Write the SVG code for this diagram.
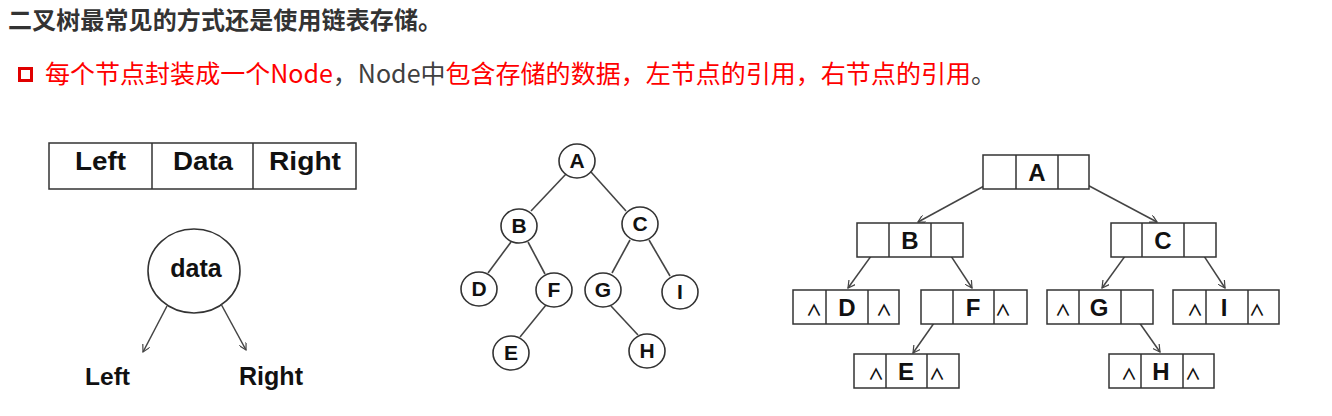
<svg xmlns="http://www.w3.org/2000/svg" width="1332" height="416" viewBox="0 0 1332 416">
<defs>
<style>
.cn{font-family:"Noto Sans CJK SC","Noto Sans",sans-serif}
.hd{font-size:24px;font-weight:bold;fill:#333}
.ln2{font-size:25px}
.r{fill:#ff0000}
.g{fill:#404040}
.box{fill:#fff;stroke:#333;stroke-width:1.5}
.cell{stroke:#333;stroke-width:1.5}
.lb{font-family:"Liberation Sans",Arial,sans-serif;font-weight:bold;fill:#111;text-anchor:middle}
.lt{font-family:"Liberation Sans",Arial,sans-serif;font-weight:bold;fill:#111}
.k{font-family:"Noto Sans CJK SC",sans-serif;font-size:16px;font-weight:bold;fill:#111;text-anchor:middle}
.circ{fill:#fff;stroke:#333;stroke-width:1.6}
.edge{stroke:#444;stroke-width:1.6;fill:none}
.arr{stroke:#444;stroke-width:1.5;fill:none;marker-end:url(#ah)}
</style>
<marker id="ah" viewBox="0 0 10 10" refX="9" refY="5" markerWidth="8" markerHeight="8" orient="auto" markerUnits="userSpaceOnUse">
<path d="M0,0 L9,5 L0,10" fill="none" stroke="#444" stroke-width="1.5"/>
</marker>
</defs>
<rect width="1332" height="416" fill="#fff"/>
<text class="cn hd" x="8" y="29" textLength="434">二叉树最常见的方式还是使用链表存储。</text>
<rect x="19.5" y="68.5" width="12" height="12" fill="none" stroke="#e00000" stroke-width="3"/>
<text class="cn ln2" x="45" y="83" textLength="951"><tspan class="r">每个节点封装成一个Node</tspan><tspan class="g">，Node中</tspan><tspan class="r">包含存储的数据，左节点的引用，右节点的引用</tspan><tspan class="g">。</tspan></text>

<g id="struct">
<rect class="box" x="49" y="143" width="307" height="46"/>
<line class="cell" x1="152" y1="143" x2="152" y2="189"/>
<line class="cell" x1="253" y1="143" x2="253" y2="189"/>
<text class="lt" x="75" y="170" font-size="25" textLength="51" lengthAdjust="spacingAndGlyphs">Left</text>
<text class="lt" x="173" y="170" font-size="25" textLength="60" lengthAdjust="spacingAndGlyphs">Data</text>
<text class="lt" x="269" y="170" font-size="25" textLength="72" lengthAdjust="spacingAndGlyphs">Right</text>
</g>
<g id="datanode">
<ellipse class="circ" cx="194" cy="271" rx="46" ry="42"/>
<text class="lb" x="196" y="277" font-size="25">data</text>
</g>
<g id="leftlabel"><text class="lt" x="85" y="385" font-size="24" textLength="45" lengthAdjust="spacingAndGlyphs">Left</text></g>
<g id="rightlabel"><text class="lt" x="239" y="385" font-size="25" textLength="64" lengthAdjust="spacingAndGlyphs">Right</text></g>

<g id="connectors">
<line class="arr" x1="167" y1="306" x2="143" y2="352"/>
<line class="arr" x1="221" y1="304" x2="246" y2="350"/>
<line class="edge" x1="566" y1="174" x2="531" y2="211"/>
<line class="edge" x1="591" y1="172" x2="626" y2="211"/>
<line class="edge" x1="511" y1="242" x2="488" y2="273"/>
<line class="edge" x1="528" y1="242" x2="545" y2="274"/>
<line class="edge" x1="630" y1="240" x2="612" y2="273"/>
<line class="edge" x1="649" y1="240" x2="670" y2="276"/>
<line class="edge" x1="546" y1="305" x2="520" y2="337"/>
<line class="edge" x1="611" y1="306" x2="638" y2="335"/>
<line class="arr" x1="997" y1="179" x2="918" y2="222"/>
<line class="arr" x1="1078" y1="180" x2="1157" y2="222"/>
<line class="arr" x1="874" y1="252" x2="848" y2="288"/>
<line class="arr" x1="947" y1="250" x2="972" y2="288"/>
<line class="arr" x1="1128" y1="252" x2="1102" y2="288"/>
<line class="arr" x1="1200" y1="250" x2="1225" y2="288"/>
<line class="arr" x1="939" y1="316" x2="913" y2="353"/>
<line class="arr" x1="1134" y1="315" x2="1160" y2="352"/>
</g>

<g id="tA"><ellipse class="circ" cx="577" cy="161" rx="18" ry="17"/><text class="lb" x="577" y="168" font-size="21">A</text></g>
<g id="tB"><ellipse class="circ" cx="519" cy="226" rx="18" ry="17"/><text class="lb" x="519" y="233" font-size="21">B</text></g>
<g id="tC"><ellipse class="circ" cx="640" cy="224" rx="18" ry="17"/><text class="lb" x="640" y="231" font-size="21">C</text></g>
<g id="tD"><ellipse class="circ" cx="479" cy="289" rx="18" ry="17"/><text class="lb" x="479" y="296" font-size="21">D</text></g>
<g id="tF"><ellipse class="circ" cx="554" cy="290" rx="18" ry="17"/><text class="lb" x="554" y="297" font-size="21">F</text></g>
<g id="tG"><ellipse class="circ" cx="603" cy="290" rx="18" ry="17"/><text class="lb" x="603" y="297" font-size="21">G</text></g>
<g id="tI"><ellipse class="circ" cx="680" cy="292" rx="18" ry="17"/><text class="lb" x="680" y="299" font-size="21">I</text></g>
<g id="tE"><ellipse class="circ" cx="511" cy="353" rx="18" ry="17"/><text class="lb" x="511" y="360" font-size="21">E</text></g>
<g id="tH"><ellipse class="circ" cx="647" cy="351" rx="18" ry="17"/><text class="lb" x="647" y="358" font-size="21">H</text></g>

<g id="lA"><rect class="box" x="983" y="155" width="106" height="34"/><line class="cell" x1="1016" y1="155" x2="1016" y2="189"/><line class="cell" x1="1058" y1="155" x2="1058" y2="189"/><text class="lb" x="1037" y="181" font-size="24">A</text></g>
<g id="lB"><rect class="box" x="857" y="223" width="106" height="34"/><line class="cell" x1="889" y1="223" x2="889" y2="257"/><line class="cell" x1="931" y1="223" x2="931" y2="257"/><text class="lb" x="910" y="249" font-size="24">B</text></g>
<g id="lC"><rect class="box" x="1111" y="223" width="105" height="34"/><line class="cell" x1="1142" y1="223" x2="1142" y2="257"/><line class="cell" x1="1184" y1="223" x2="1184" y2="257"/><text class="lb" x="1163" y="249" font-size="24">C</text></g>
<g id="lD"><rect class="box" x="793" y="290" width="106" height="34"/><line class="cell" x1="826" y1="290" x2="826" y2="324"/><line class="cell" x1="868" y1="290" x2="868" y2="324"/><text class="lb" x="847" y="316" font-size="24">D</text><text class="k" x="814" y="316">∧</text><text class="k" x="884" y="316">∧</text></g>
<g id="lF"><rect class="box" x="921" y="290" width="106" height="34"/><line class="cell" x1="953" y1="290" x2="953" y2="324"/><line class="cell" x1="994" y1="290" x2="994" y2="324"/><text class="lb" x="973" y="316" font-size="24">F</text><text class="k" x="1003" y="316">∧</text></g>
<g id="lG"><rect class="box" x="1047" y="290" width="106" height="34"/><line class="cell" x1="1079" y1="290" x2="1079" y2="324"/><line class="cell" x1="1121" y1="290" x2="1121" y2="324"/><text class="lb" x="1099" y="316" font-size="24">G</text><text class="k" x="1063" y="316">∧</text></g>
<g id="lI"><rect class="box" x="1173" y="290" width="106" height="34"/><line class="cell" x1="1206" y1="290" x2="1206" y2="324"/><line class="cell" x1="1248" y1="290" x2="1248" y2="324"/><text class="lb" x="1224" y="316" font-size="24">I</text><text class="k" x="1195" y="316">∧</text><text class="k" x="1257" y="316">∧</text></g>
<g id="lE"><rect class="box" x="854" y="354" width="105" height="34"/><line class="cell" x1="886" y1="354" x2="886" y2="388"/><line class="cell" x1="927" y1="354" x2="927" y2="388"/><text class="lb" x="906" y="380" font-size="24">E</text><text class="k" x="876" y="380">∧</text><text class="k" x="937" y="380">∧</text></g>
<g id="lH"><rect class="box" x="1109" y="354" width="105" height="34"/><line class="cell" x1="1141" y1="354" x2="1141" y2="388"/><line class="cell" x1="1183" y1="354" x2="1183" y2="388"/><text class="lb" x="1161" y="380" font-size="24">H</text><text class="k" x="1129" y="380">∧</text><text class="k" x="1193" y="380">∧</text></g>
</svg>
